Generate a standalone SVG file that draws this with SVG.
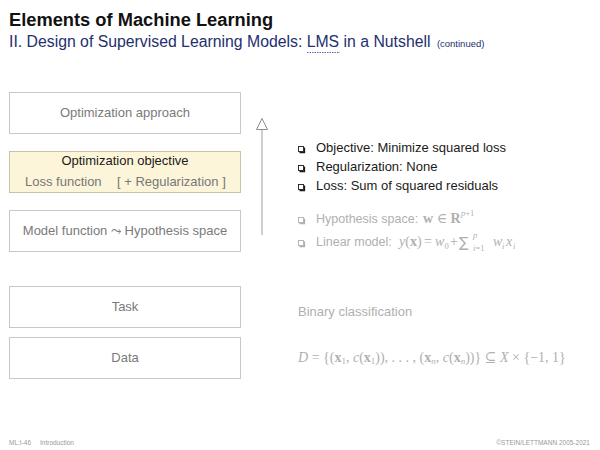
<svg xmlns="http://www.w3.org/2000/svg" width="600" height="450" viewBox="0 0 600 450">
<style>
.sans{font-family:"Liberation Sans",Arial,sans-serif}
.box{fill:#fff;stroke:#c8c8c8;stroke-width:1}
.hl{fill:#fcf5d9;stroke:#c9c2a6;stroke-width:1}
.bt{font-family:"Liberation Sans",Arial,sans-serif;font-size:13px;fill:#7a7a7a;text-anchor:middle}
.sq{fill:#fff;stroke-width:0.9}
.sd{fill:none;stroke-width:1.3}
.dark{fill:#1a1a1a}
.gray{fill:#b0b0b0}
.m{font-family:"Liberation Serif","DejaVu Serif",serif;font-size:14px;fill:#b0b0b0}
.ms{font-family:"Liberation Serif","DejaVu Serif",serif;font-size:8.5px;fill:#b0b0b0}
</style>
<defs>
<g id="bd"><polyline class="sd" points="1,6 6,6 6,1" stroke="#1a1a1a"/><rect class="sq" x="0" y="0" width="5" height="5" stroke="#1a1a1a"/></g>
<g id="bg"><polyline class="sd" points="1,6 6,6 6,1" stroke="#b0b0b0"/><rect class="sq" x="0" y="0" width="5" height="5" stroke="#b0b0b0"/></g>
</defs>
<rect width="600" height="450" fill="#fff"/>
<g id="title">
<text class="sans" x="9" y="26" font-size="18.3" font-weight="bold" fill="#111">Elements of Machine Learning</text>
<text class="sans" x="9" y="47" font-size="15.8" fill="#23306e">II. Design of Supervised Learning Models: LMS in a Nutshell <tspan font-size="9.5" dx="2">(continued)</tspan></text>
<line x1="307" y1="52.5" x2="340" y2="52.5" stroke="#5a6aa8" stroke-width="1" stroke-dasharray="1.5,1"/>
</g>
<g id="node-approach">
<rect class="box" x="9.5" y="92.5" width="231" height="41"/>
<text class="bt" x="125" y="117">Optimization approach</text>
</g>
<g id="node-objective">
<rect class="hl" x="9.5" y="151.5" width="231" height="41"/>
<text class="bt" x="125" y="165" style="fill:#1a1a1a">Optimization objective</text>
<text class="sans" x="25" y="186" font-size="13" fill="#777">Loss function</text>
<text class="sans" x="117" y="186" font-size="13" fill="#777">[ + Regularization ]</text>
</g>
<g id="node-model">
<rect class="box" x="9.5" y="210.5" width="231" height="41"/>
<text class="bt" x="125" y="235">Model function ⤳ Hypothesis space</text>
</g>
<g id="node-task">
<rect class="box" x="9.5" y="286.5" width="231" height="41"/>
<text class="bt" x="125" y="311">Task</text>
</g>
<g id="node-data">
<rect class="box" x="9.5" y="337.5" width="231" height="41"/>
<text class="bt" x="125" y="362">Data</text>
</g>
<g id="connectors">
<line x1="262" y1="129" x2="262" y2="235" stroke="#a0a0a0" stroke-width="1"/>
<polygon points="262,118.5 256.5,129.5 267.5,129.5" fill="#fff" stroke="#808080" stroke-width="0.9"/>
</g>
<g id="bullets">
<use href="#bd" x="298.5" y="146.5"/>
<text class="sans dark" x="316" y="152" font-size="13">Objective: Minimize squared loss</text>
<use href="#bd" x="298.5" y="165.5"/>
<text class="sans dark" x="316" y="171" font-size="13">Regularization: None</text>
<use href="#bd" x="298.5" y="184.5"/>
<text class="sans dark" x="316" y="190" font-size="13">Loss: Sum of squared residuals</text>
<use href="#bg" x="298.5" y="217.5"/>
<text class="sans gray" x="316" y="223" font-size="12.5">Hypothesis space:</text>
<text class="m" x="423" y="223"><tspan font-weight="bold">w</tspan> ∈ <tspan font-weight="bold">R</tspan></text>
<text class="ms" x="461" y="216"><tspan font-style="italic">p</tspan>+1</text>
<use href="#bg" x="298.5" y="240.5"/>
<text class="sans gray" x="316" y="246" font-size="12.5">Linear model:</text>
<text class="m" x="399" y="246"><tspan font-style="italic">y</tspan>(<tspan font-weight="bold">x</tspan>)</text>
<text class="m" x="424" y="246">=</text>
<text class="m" x="435" y="246" font-style="italic">w</text>
<text class="ms" x="444.5" y="249">0</text>
<text class="m" x="450" y="246">+</text>
<text x="459" y="247" font-family="'DejaVu Sans',sans-serif" font-size="14" fill="#b0b0b0">∑</text>
<text class="ms" x="473" y="238" font-style="italic">p</text>
<text class="ms" x="473" y="251"><tspan font-style="italic">i</tspan>=1</text>
<text class="m" x="493" y="246" font-style="italic">w</text>
<text class="ms" x="502" y="249" font-style="italic">i</text>
<text class="m" x="506" y="246" font-style="italic">x</text>
<text class="ms" x="513" y="249" font-style="italic">i</text>
</g>
<g id="labels">
<text class="sans gray" x="298" y="316" font-size="13">Binary classification</text>
<text class="m" x="298" y="362" font-size="14.5"><tspan font-style="italic">D</tspan> = {(<tspan font-weight="bold">x</tspan><tspan font-size="9" dy="2">1</tspan><tspan dy="-2">, </tspan><tspan font-style="italic">c</tspan>(<tspan font-weight="bold">x</tspan><tspan font-size="9" dy="2">1</tspan><tspan dy="-2">)), . . . , (</tspan><tspan font-weight="bold">x</tspan><tspan font-size="9" font-style="italic" dy="2">n</tspan><tspan dy="-2">, </tspan><tspan font-style="italic">c</tspan>(<tspan font-weight="bold">x</tspan><tspan font-size="9" font-style="italic" dy="2">n</tspan><tspan dy="-2">))} ⊆ </tspan><tspan font-style="italic">X</tspan> × {−1, 1}</text>
</g>
<g id="footer">
<text class="sans" x="9" y="445" font-size="6.5" fill="#999">ML:I-46</text>
<text class="sans" x="40" y="445" font-size="6.5" fill="#999">Introduction</text>
<text class="sans" x="590" y="445" font-size="6.5" fill="#999" text-anchor="end">©STEIN/LETTMANN 2005-2021</text>
</g>
</svg>
